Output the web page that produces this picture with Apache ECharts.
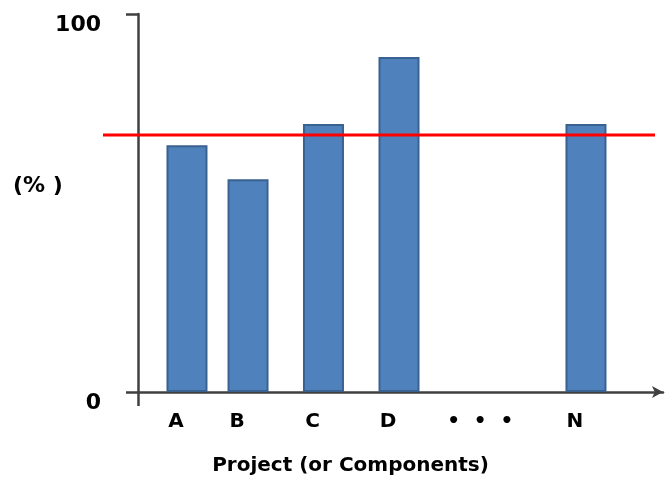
<!DOCTYPE html>
<html><head><meta charset="utf-8">
<script src="https://cdn.jsdelivr.net/npm/echarts@6/dist/echarts.min.js"></script>
<style>html,body{margin:0;padding:0;background:#fff}#c{width:671px;height:480px}</style>
</head><body><div id="c"></div>
<script>
var categories = ['A', 'B', 'C', 'D', '\u2022  \u2022  \u2022', 'N'];
var catPos = [0.653, 1.467, 2.473, 3.48, 4.71, 5.973];
var values = [65.3, 56.3, 70.9, 88.6, null, 70.9];
var target = 68;
var yTicks = [0, 100];
var yName = '(% )';

var barData = [];
for (var i = 0; i < categories.length; i++) {
  if (values[i] != null) barData.push([catPos[i], values[i]]);
}
var font = '"DejaVu Sans", Arial, sans-serif';
var chart = echarts.init(document.getElementById('c'));
chart.setOption({
  animation: false,
  title: {text: yName, left: 13, top: 175, padding: 0,
    textStyle: {color: '#000', fontFamily: font, fontWeight: 'bold', fontSize: 22}},
  grid: [
    {left: 138, right: 8, top: 14, bottom: 88, containLabel: false, outerBoundsMode: 'none'},
    {left: 103, right: 16, top: 14, bottom: 88, containLabel: false, outerBoundsMode: 'none'}
  ],
  xAxis: [{
    type: 'value', gridIndex: 0, min: 0, max: 7,
    splitLine: {show: false},
    axisLine: {show: true, onZero: false, symbol: ['none', 'arrow'], symbolSize: [9, 11],
      lineStyle: {color: '#404040', width: 2.5}},
    axisTick: {show: true, customValues: [0], length: 14, inside: false,
      lineStyle: {color: '#404040', width: 2.5}},
    axisLabel: {show: true, customValues: catPos, margin: 20, padding: [0, 22, 0, 0],
      formatter: function (v) {
        for (var i = 0; i < catPos.length; i++) if (Math.abs(catPos[i] - v) < 1e-6) return categories[i];
        return '';
      },
      color: '#000', fontFamily: font, fontWeight: 'bold', fontSize: 20},
    name: 'Project (or Components)', nameLocation: 'middle', nameGap: 64,
    nameTextStyle: {color: '#000', fontFamily: font, fontWeight: 'bold', fontSize: 20, padding: [0, 100, 0, 0]}
  }, {
    type: 'value', gridIndex: 1, min: 0, max: 1, show: false
  }],
  yAxis: [{
    type: 'value', gridIndex: 0, min: 0, max: 100, interval: 100,
    splitLine: {show: false},
    axisLine: {show: true, lineStyle: {color: '#404040', width: 2.5}},
    axisTick: {show: true, length: 12, lineStyle: {color: '#404040', width: 2.5}},
    axisLabel: {show: true, customValues: yTicks, margin: 37, verticalAlign: 'top',
      color: '#000', fontFamily: font, fontWeight: 'bold', fontSize: 22}
  }, {
    type: 'value', gridIndex: 1, min: 0, max: 100, show: false
  }],
  series: [{
    type: 'bar', xAxisIndex: 0, yAxisIndex: 0, data: barData, barWidth: 41,
    itemStyle: {color: '#4F81BD', borderColor: '#3A6291', borderWidth: 2}
  }, {
    type: 'line', xAxisIndex: 1, yAxisIndex: 1, symbol: 'none',
    data: [[0, target], [1, target]],
    lineStyle: {color: '#FF0000', width: 3}, z: 5
  }]
});
</script></body></html>
